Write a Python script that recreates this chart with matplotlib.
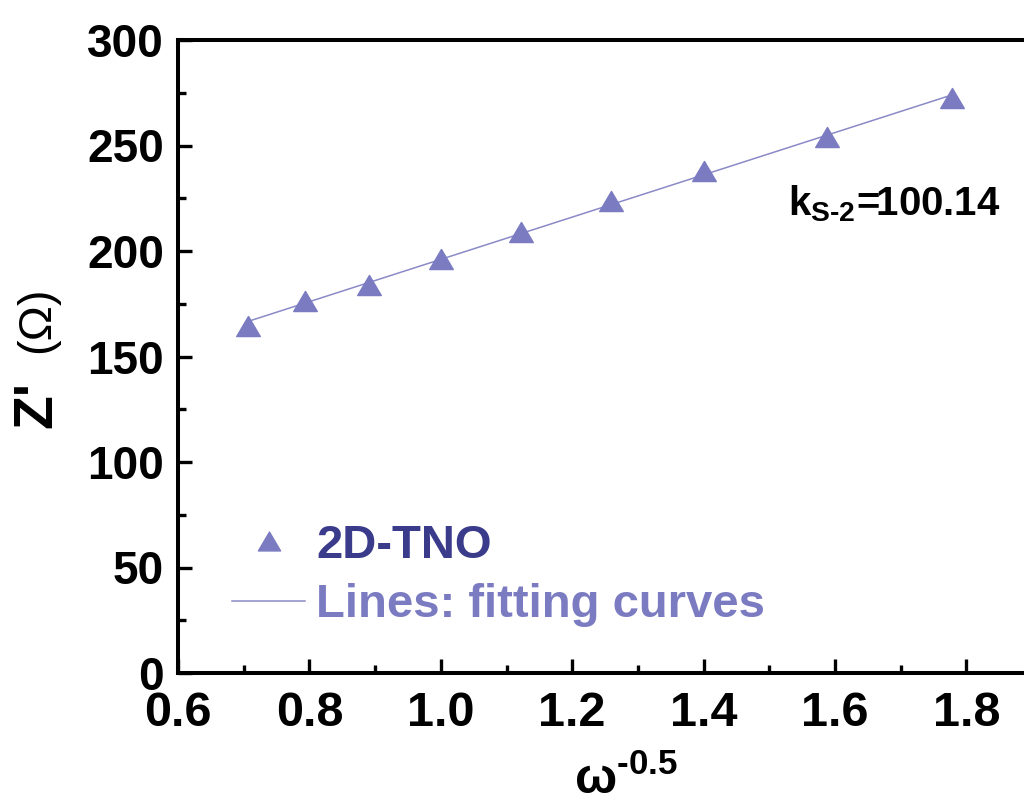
import numpy as np
import matplotlib.pyplot as plt
from matplotlib.path import Path
from matplotlib.lines import Line2D
from matplotlib.ticker import MultipleLocator

plt.rcParams["font.family"] = ["Liberation Sans", "DejaVu Sans"]
plt.rcParams["font.weight"] = "bold"
plt.rcParams["mathtext.fontset"] = "custom"
plt.rcParams["mathtext.rm"] = "Liberation Sans"
plt.rcParams["mathtext.bf"] = "Liberation Sans:bold"
plt.rcParams["mathtext.it"] = "Liberation Sans:italic"

# data
w_inv_sqrt = [0.707, 0.794, 0.891, 1.0, 1.122, 1.259, 1.40, 1.588, 1.778]
z_real = [164.5, 176.3, 184.1, 196.4, 209.2, 223.7, 237.9, 254.0, 272.3]
series_name = "2D-TNO"
fit_name = "Lines: fitting curves"
slope_text = "100.14"
xticks = [0.6, 0.8, 1.0, 1.2, 1.4, 1.6, 1.8]
yticks = [0, 50, 100, 150, 200, 250, 300]

marker_col = "#7b7bc2"
line_col = "#8a8ac8"
name_col = "#3b3b8c"

# slightly wide triangle like Origin's
tri = Path([(-1, -0.85), (1, -0.85), (0, 0.85), (-1, -0.85)],
           [Path.MOVETO, Path.LINETO, Path.LINETO, Path.CLOSEPOLY])

fig = plt.figure(figsize=(10.24, 8.07), dpi=100)
ax = fig.add_axes([178 / 1024, 134 / 807, 897 / 1024, 633 / 807])

# linear fit through the points
coef = np.polyfit(w_inv_sqrt, z_real, 1)
xs = np.array([w_inv_sqrt[0], w_inv_sqrt[-1]])
ax.plot(xs, np.polyval(coef, xs), color=line_col, lw=1.1, zorder=2)
ax.plot(w_inv_sqrt, z_real, ls="none", marker=tri, ms=17, color=marker_col,
        mec=marker_col, zorder=3)

ax.set_xlim(0.6, 0.6 + 897 / 657)
ax.set_ylim(0, 300)
ax.set_xticks(xticks, labels=[f"{v:.1f}" for v in xticks])
ax.set_yticks(yticks, labels=[str(v) for v in yticks])
ax.xaxis.set_minor_locator(MultipleLocator(0.1))
ax.yaxis.set_minor_locator(MultipleLocator(25))
ax.tick_params(which="both", direction="in", width=2.4, top=False, right=False)
ax.tick_params(which="major", length=10)
ax.tick_params(which="minor", length=6)
ax.tick_params(axis="x", which="major", labelsize=35, pad=13)
ax.tick_params(axis="y", which="major", labelsize=33, pad=10)
for s in ["left", "bottom", "top"]:
    ax.spines[s].set_linewidth(2.9)
ax.spines["right"].set_visible(False)

ax.set_xlabel("$\\mathbf{\\omega}^{\\mathbf{\u20100.5}}$", fontsize=36, labelpad=14)

fig.text(37 / 1024, 1 - 405 / 807, "Z'", rotation=90, fontsize=40,
         ha="center", va="center")
fig.text(37 / 1024, 1 - 320 / 807, "(\u03a9)", rotation=90, fontsize=34,
         fontweight="normal", ha="center", va="center")

ax.text(1.528, 217,
        "$\\mathbf{k}_{\\mathbf{S\u20102}}\\!\\mathbf{=}\\!\\!\\mathbf{" + slope_text + "}$",
        fontsize=29, ha="left", va="baseline")

handles = [
    Line2D([], [], ls="none", marker=tri, ms=16, color=marker_col),
    Line2D([], [], color=line_col, lw=1.1),
]
leg = fig.legend(handles, [series_name, fit_name], loc="upper left",
                 bbox_to_anchor=(232 / 1024, 1 - 524 / 807), frameon=False,
                 fontsize=34, borderpad=0, borderaxespad=0, handlelength=1.55,
                 handletextpad=0.23, labelspacing=0.32, numpoints=1)
leg.get_texts()[0].set_color(name_col)
leg.get_texts()[1].set_color(marker_col)

fig.savefig("out.png", dpi=100)
